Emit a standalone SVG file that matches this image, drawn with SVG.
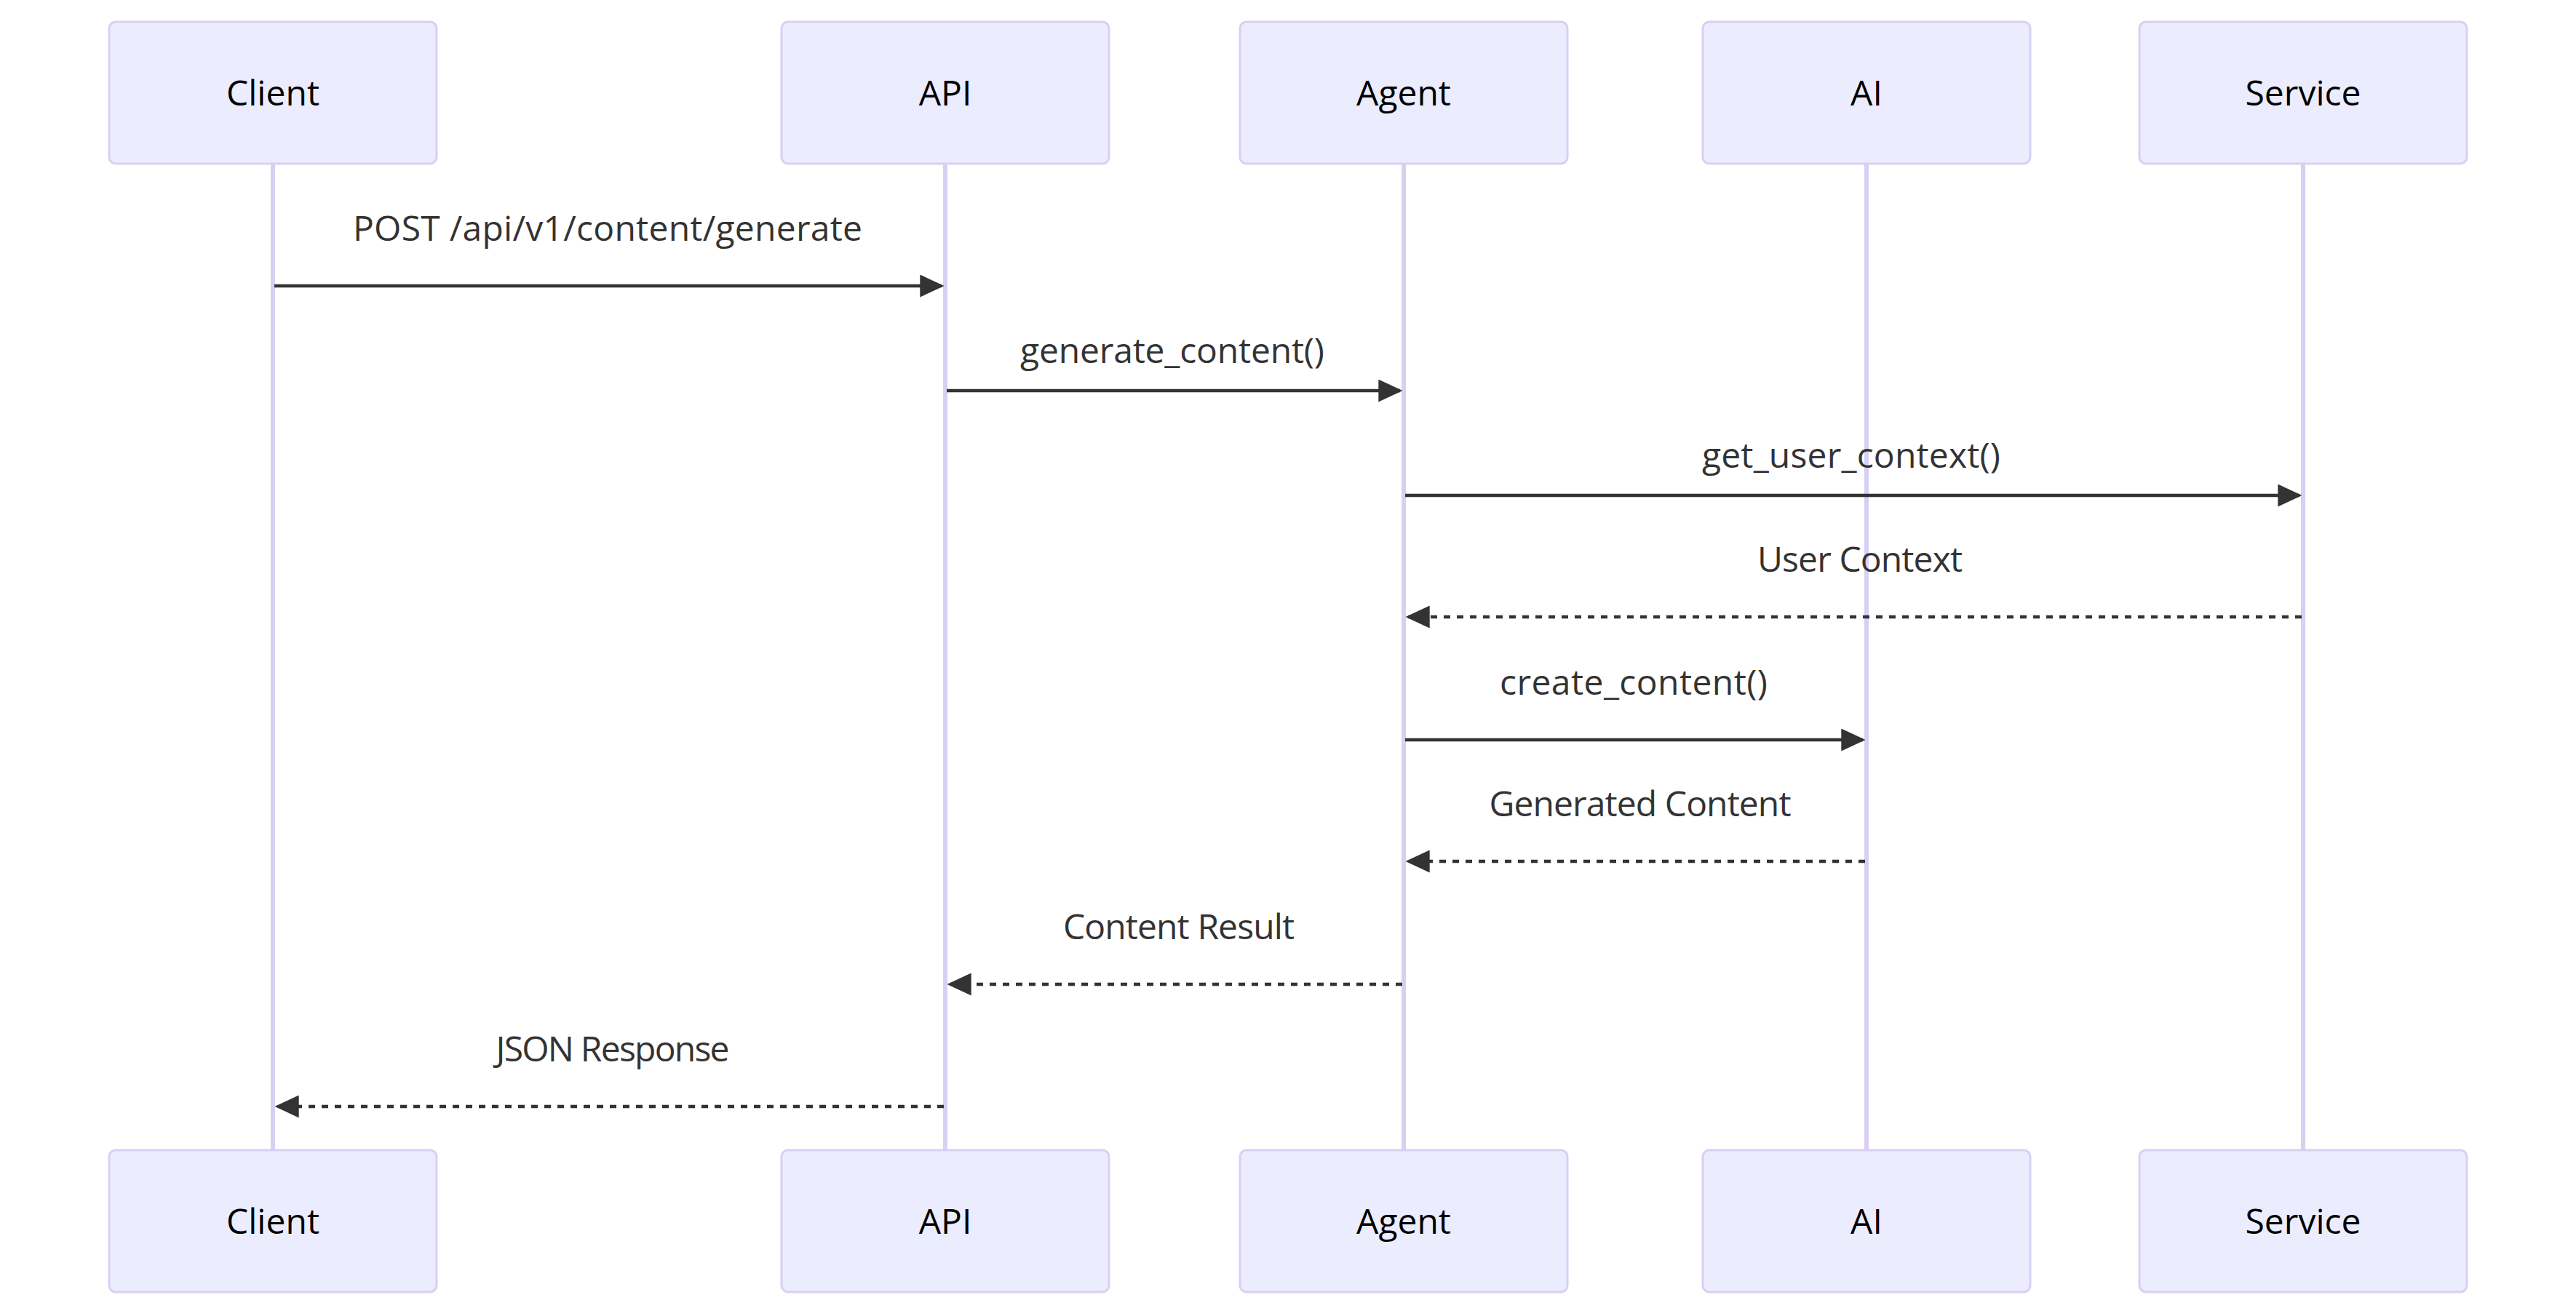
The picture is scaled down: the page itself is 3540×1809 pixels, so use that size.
<svg xmlns="http://www.w3.org/2000/svg" width="3540" height="1809" viewBox="0 0 3540 1809">
<style>
.actor rect{fill:#ECECFF;stroke:#D9CFF3;stroke-width:3}
.actor text{font-family:"Open Sans","Noto Sans","DejaVu Sans",sans-serif;font-size:48px;fill:#000;text-anchor:middle}
.life{stroke:#D9CFF3;stroke-width:6}
.msg{stroke:#333;stroke-width:4.5;fill:none;marker-end:url(#head)}
.dash{stroke-dasharray:9 9}
.lbl{font-family:"Open Sans","Noto Sans","DejaVu Sans",sans-serif;font-size:48px;fill:#333;text-anchor:middle}
</style>
<defs>
<marker id="head" viewBox="0 0 10 10" refX="9" refY="5" markerUnits="userSpaceOnUse" markerWidth="33" markerHeight="31" orient="auto" preserveAspectRatio="none">
<path d="M0,0 L10,5 L0,10 z" fill="#333"/>
</marker>
</defs>
<rect width="3540" height="1809" fill="#fff"/>
<g id="lifelines">
<line class="life" x1="375" y1="226" x2="375" y2="1580"/>
<line class="life" x1="1299" y1="226" x2="1299" y2="1580"/>
<line class="life" x1="1929" y1="226" x2="1929" y2="1580"/>
<line class="life" x1="2565" y1="226" x2="2565" y2="1580"/>
<line class="life" x1="3165" y1="226" x2="3165" y2="1580"/>
</g>
<g id="client-top" class="actor"><rect x="150" y="30" width="450" height="195" rx="9"/><text x="375" y="145">Client</text></g>
<g id="api-top" class="actor"><rect x="1074" y="30" width="450" height="195" rx="9"/><text x="1299" y="145">API</text></g>
<g id="agent-top" class="actor"><rect x="1704" y="30" width="450" height="195" rx="9"/><text x="1929" y="145">Agent</text></g>
<g id="ai-top" class="actor"><rect x="2340" y="30" width="450" height="195" rx="9"/><text x="2565" y="145">AI</text></g>
<g id="service-top" class="actor"><rect x="2940" y="30" width="450" height="195" rx="9"/><text x="3165" y="145">Service</text></g>
<g id="client-bottom" class="actor"><rect x="150" y="1581" width="450" height="195" rx="9"/><text x="375" y="1696">Client</text></g>
<g id="api-bottom" class="actor"><rect x="1074" y="1581" width="450" height="195" rx="9"/><text x="1299" y="1696">API</text></g>
<g id="agent-bottom" class="actor"><rect x="1704" y="1581" width="450" height="195" rx="9"/><text x="1929" y="1696">Agent</text></g>
<g id="ai-bottom" class="actor"><rect x="2340" y="1581" width="450" height="195" rx="9"/><text x="2565" y="1696">AI</text></g>
<g id="service-bottom" class="actor"><rect x="2940" y="1581" width="450" height="195" rx="9"/><text x="3165" y="1696">Service</text></g>
<g id="connectors">
<line class="msg" x1="377" y1="393" x2="1294" y2="393"/>
<line class="msg" x1="1301" y1="537" x2="1924" y2="537"/>
<line class="msg" x1="1931" y1="681" x2="3160" y2="681"/>
<line class="msg dash" x1="3163" y1="848" x2="1935" y2="848"/>
<line class="msg" x1="1931" y1="1017" x2="2560" y2="1017"/>
<line class="msg dash" x1="2563" y1="1184" x2="1935" y2="1184"/>
<line class="msg dash" x1="1927" y1="1353" x2="1305" y2="1353"/>
<line class="msg dash" x1="1297" y1="1521" x2="381" y2="1521"/>
</g>
<g id="labels">
<text class="lbl" x="835" y="331" textLength="700">POST /api/v1/content/generate</text>
<text class="lbl" x="1611" y="499" textLength="418">generate_content()</text>
<text class="lbl" x="2544" y="643" textLength="410">get_user_context()</text>
<text class="lbl" x="2556" y="786" textLength="282">User Context</text>
<text class="lbl" x="2245" y="955" textLength="368">create_content()</text>
<text class="lbl" x="2254" y="1122" textLength="415">Generated Content</text>
<text class="lbl" x="1620" y="1291" textLength="318">Content Result</text>
<text class="lbl" x="842" y="1459" textLength="321">JSON Response</text>
</g>
</svg>
